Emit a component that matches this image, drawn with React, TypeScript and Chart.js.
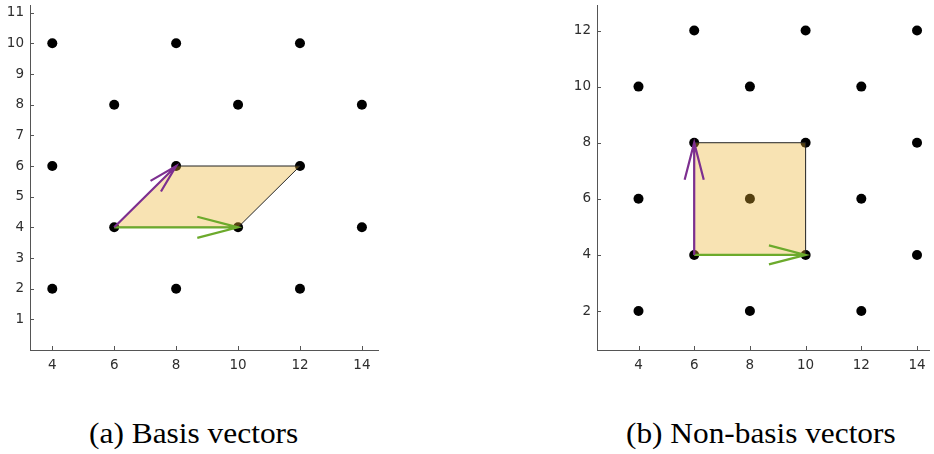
import React, { useEffect, useLayoutEffect, useRef } from "react";
import { Chart, registerables } from "chart.js";

Chart.register(...registerables);

// ---------- data ----------
const leftLatticeX = [4, 8, 12, 6, 10, 14, 4, 8, 12, 6, 10, 14, 4, 8, 12];
const leftLatticeY = [10, 10, 10, 8, 8, 8, 6, 6, 6, 4, 4, 4, 2, 2, 2];
const rightLatticeX = [6, 10, 14, 4, 8, 12, 6, 10, 14, 4, 8, 12, 6, 10, 14, 4, 8, 12];
const rightLatticeY = [12, 12, 12, 10, 10, 10, 8, 8, 8, 6, 6, 6, 4, 4, 4, 2, 2, 2];

const leftCellX = [6, 10, 12, 8];
const leftCellY = [4, 4, 6, 6];
const rightCellX = [6, 10, 10, 6];
const rightCellY = [4, 4, 8, 8];

const leftOrigin = [6, 4];
const leftVectorA = [10, 4]; // green
const leftVectorB = [8, 6]; // purple
const rightOrigin = [6, 4];
const rightVectorA = [10, 4]; // green
const rightVectorB = [6, 8]; // purple

const leftXTicks = [4, 6, 8, 10, 12, 14];
const leftYTicks = [1, 2, 3, 4, 5, 6, 7, 8, 9, 10, 11];
const rightXTicks = [4, 6, 8, 10, 12, 14];
const rightYTicks = [2, 4, 6, 8, 10, 12];

const leftXRange = [3.28, 14.52];
const leftYRange = [0, 11.25];
const rightXRange = [2.51, 14.43];
const rightYRange = [0.61, 12.91];

const captions = ["(a) Basis vectors", "(b) Non-basis vectors"];

// ---------- styles ----------
const AXIS_COLOR = "#555555";
const TICK_COLOR = "#2e2e2e";
const GREEN = "#6caa2c";
const PURPLE = "#7d2f90";
const CELL_FILL = "rgba(236,178,44,0.36)";

type PanelCfg = {
  latX: number[];
  latY: number[];
  cellX: number[];
  cellY: number[];
  origin: number[];
  vecA: number[];
  vecB: number[];
  xTicks: number[];
  yTicks: number[];
  xRange: number[];
  yRange: number[];
  yAxisWidth: number;
  padding: { left: number; right: number; top: number; bottom: number };
};

function makeOverlay(cfg: PanelCfg) {
  return {
    id: "overlay",
    afterDatasetsDraw(chart: any) {
      const { ctx } = chart;
      const x = chart.scales.x;
      const y = chart.scales.y;
      ctx.save();
      // cell polygon
      ctx.beginPath();
      cfg.cellX.forEach((vx, i) => {
        const px = x.getPixelForValue(vx);
        const py = y.getPixelForValue(cfg.cellY[i]);
        if (i === 0) ctx.moveTo(px, py);
        else ctx.lineTo(px, py);
      });
      ctx.closePath();
      ctx.fillStyle = CELL_FILL;
      ctx.fill();
      ctx.lineWidth = 1;
      ctx.strokeStyle = "#222222";
      ctx.stroke();

      // arrows
      const arrows = [
        { to: cfg.vecA, color: GREEN },
        { to: cfg.vecB, color: PURPLE },
      ];
      const ox = x.getPixelForValue(cfg.origin[0]);
      const oy = y.getPixelForValue(cfg.origin[1]);
      for (const a of arrows) {
        const tx = x.getPixelForValue(a.to[0]);
        const ty = y.getPixelForValue(a.to[1]);
        const len = Math.hypot(tx - ox, ty - oy);
        const ang = Math.atan2(oy - ty, ox - tx);
        const head = len * 0.34;
        const spread = (14.5 * Math.PI) / 180;
        ctx.strokeStyle = a.color;
        ctx.lineWidth = 2.2;
        ctx.lineCap = "butt";
        ctx.beginPath();
        ctx.moveTo(ox, oy);
        ctx.lineTo(tx, ty);
        ctx.moveTo(tx + head * Math.cos(ang + spread), ty + head * Math.sin(ang + spread));
        ctx.lineTo(tx, ty);
        ctx.lineTo(tx + head * Math.cos(ang - spread), ty + head * Math.sin(ang - spread));
        ctx.stroke();
      }
      ctx.restore();
    },
    afterDraw(chart: any) {
      const { ctx, chartArea } = chart;
      const x = chart.scales.x;
      const y = chart.scales.y;
      ctx.save();
      ctx.strokeStyle = AXIS_COLOR;
      ctx.lineWidth = 1;
      ctx.beginPath();
      for (const t of cfg.xTicks) {
        const px = Math.round(x.getPixelForValue(t)) + 0.5;
        ctx.moveTo(px, chartArea.bottom);
        ctx.lineTo(px, chartArea.bottom - 4);
      }
      for (const t of cfg.yTicks) {
        const py = Math.round(y.getPixelForValue(t)) + 0.5;
        ctx.moveTo(chartArea.left, py);
        ctx.lineTo(chartArea.left + 4, py);
      }
      ctx.stroke();
      ctx.restore();
    },
  };
}

function Panel({ cfg, width, height, left }: { cfg: PanelCfg; width: number; height: number; left: number }) {
  const ref = useRef<HTMLCanvasElement>(null);
  useEffect(() => {
    if (!ref.current) return;
    const points = cfg.latX.map((vx, i) => ({ x: vx, y: cfg.latY[i] }));
    const tickFont = { family: "'DejaVu Sans', sans-serif", size: 13.5 };
    const chart = new Chart(ref.current, {
      type: "scatter",
      data: {
        datasets: [
          {
            data: points,
            pointRadius: 5,
            pointBackgroundColor: "#000000",
            pointBorderWidth: 0,
            pointHoverRadius: 5,
          },
        ],
      },
      options: {
        responsive: false,
        animation: false,
        events: [],
        layout: { padding: cfg.padding },
        plugins: { legend: { display: false }, tooltip: { enabled: false }, title: { display: false } },
        scales: {
          x: {
            type: "linear",
            min: cfg.xRange[0],
            max: cfg.xRange[1],
            grid: { display: false, drawTicks: false },
            border: { display: true, color: AXIS_COLOR, width: 1 },
            ticks: { color: TICK_COLOR, font: tickFont, padding: 7, maxRotation: 0 },
            afterBuildTicks: (s: any) => {
              s.ticks = cfg.xTicks.map((v) => ({ value: v }));
            },
            afterFit: (s: any) => {
              s.height = 30;
              s.paddingLeft = 0;
              s.paddingRight = 0;
            },
          },
          y: {
            type: "linear",
            min: cfg.yRange[0],
            max: cfg.yRange[1],
            grid: { display: false, drawTicks: false },
            border: { display: true, color: AXIS_COLOR, width: 1 },
            ticks: { color: TICK_COLOR, font: tickFont, padding: 6 },
            afterBuildTicks: (s: any) => {
              s.ticks = cfg.yTicks.map((v) => ({ value: v }));
            },
            afterFit: (s: any) => {
              s.width = cfg.yAxisWidth;
              s.paddingTop = 0;
              s.paddingBottom = 0;
            },
          },
        },
      } as any,
      plugins: [makeOverlay(cfg) as any],
    });
    return () => chart.destroy();
  }, [cfg]);
  return (
    <canvas
      ref={ref}
      width={width}
      height={height}
      style={{ position: "absolute", left, top: 0, width, height }}
    />
  );
}

function Caption({ text, left, width, top }: { text: string; left: number; width: number; top: number }) {
  const ref = useRef<HTMLSpanElement>(null);
  useLayoutEffect(() => {
    const el = ref.current;
    if (!el) return;
    el.style.transform = "none";
    const w = el.offsetWidth;
    if (w > 0) el.style.transform = `scaleX(${width / w})`;
  }, [text, width]);
  return (
    <span
      ref={ref}
      style={{
        position: "absolute",
        left,
        top,
        display: "inline-block",
        whiteSpace: "nowrap",
        fontFamily: "'Liberation Serif', 'DejaVu Serif', serif",
        fontSize: 29,
        lineHeight: "29px",
        color: "#000",
        transformOrigin: "0 0",
      }}
    >
      {text}
    </span>
  );
}

const leftCfg: PanelCfg = {
  latX: leftLatticeX,
  latY: leftLatticeY,
  cellX: leftCellX,
  cellY: leftCellY,
  origin: leftOrigin,
  vecA: leftVectorA,
  vecB: leftVectorB,
  xTicks: leftXTicks,
  yTicks: leftYTicks,
  xRange: leftXRange,
  yRange: leftYRange,
  yAxisWidth: 30,
  padding: { left: 0, right: 22, top: 3, bottom: 0 },
};

const rightCfg: PanelCfg = {
  latX: rightLatticeX,
  latY: rightLatticeY,
  cellX: rightCellX,
  cellY: rightCellY,
  origin: rightOrigin,
  vecA: rightVectorA,
  vecB: rightVectorB,
  xTicks: rightXTicks,
  yTicks: rightYTicks,
  xRange: rightXRange,
  yRange: rightYRange,
  yAxisWidth: 37,
  padding: { left: 0, right: 1, top: 4, bottom: 0 },
};

export default function App() {
  return (
    <div style={{ position: "fixed", left: 0, top: 0, width: 934, height: 454, background: "#ffffff", overflow: "hidden" }}>
      <Panel cfg={leftCfg} width={400} height={380} left={0} />
      <Panel cfg={rightCfg} width={374} height={380} left={560} />
      <Caption text={captions[0]} left={89} width={209} top={419} />
      <Caption text={captions[1]} left={626} width={270} top={419} />
    </div>
  );
}
